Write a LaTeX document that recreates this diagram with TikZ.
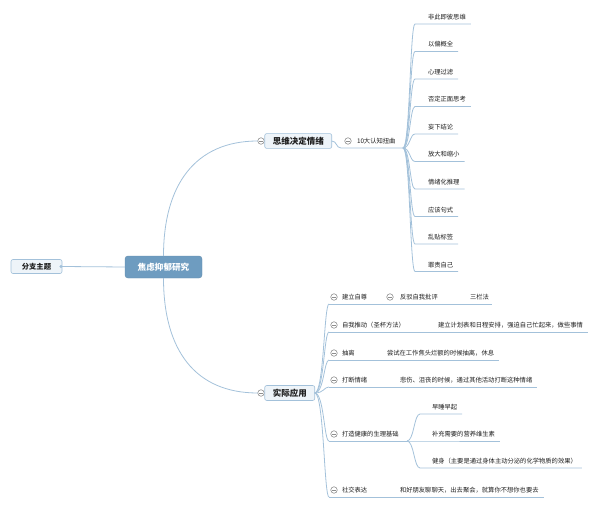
\documentclass[tikz,border=0pt]{standalone}
\usepackage{fontspec}
\setmainfont{Noto Sans CJK SC}
\usepackage{tikz}
\usetikzlibrary{calc,positioning,arrows.meta}

\definecolor{linkc}{HTML}{A3C1DA}
\definecolor{rootc}{HTML}{6E9CC0}
\definecolor{boxc}{HTML}{EEF4F9}
\definecolor{txtc}{HTML}{1E1E1E}
\definecolor{foldc}{HTML}{8E8E8E}

\tikzset{
  link/.style={draw=linkc, line width=0.8pt},
  rootbox/.style={rounded corners=3pt, fill=rootc, draw=rootc!90!black, text=white,
    font=\fontsize{8.6}{10}\selectfont\bfseries, minimum width=77pt, minimum height=22pt},
  mainbox/.style={rounded corners=2pt, fill=boxc, draw=linkc, line width=0.6pt, text=txtc,
    font=\fontsize{8.5}{10}\selectfont\bfseries, minimum height=14pt, inner xsep=8pt},
  sidebox/.style={mainbox, font=\fontsize{7.3}{9}\selectfont\bfseries, minimum width=51pt, inner xsep=4pt},
  leaf/.style={anchor=base west, inner sep=0pt, text=txtc, font=\fontsize{6.3}{7}\selectfont},
  fold/.style={circle, draw=foldc, fill=white, line width=0.6pt, minimum size=6.5pt, inner sep=0pt,
    path picture={\draw[foldc, line width=0.6pt] ([xshift=1.3pt]path picture bounding box.west)
      -- ([xshift=-1.3pt]path picture bounding box.east);}}
}

\begin{document}
\begin{tikzpicture}[x=1pt, y=-1pt, every node/.style={outer sep=0pt}]
    \useasboundingbox (0,0) rectangle (600,508);

    % centre and side topic
    \node[rootbox] (root) at (163.5,267) {焦虑抑郁研究};
    \node[sidebox] (side) at (36.5,266.5) {分支主题};
    \draw[link, shorten >=-2.5pt, -{Circle[length=3pt]}] (root.west) -- (side.east);

    % first branch
    \node[fold] (fthink) at (261,141) {};
    \node[mainbox, right=0.5pt of fthink] (think) {思维决定情绪};
    \draw[link] (root.north) .. controls (163.5,185) and (195,141) .. (fthink.west);

    \node[fold] (fdist) at (348,141) {};
    \node[leaf] (dist) at (357,143.4) {10大认知扭曲};
    \coordinate (kline) at (341,148);
    \coordinate (kfork) at (403,148);
    \draw[link] (think.east) .. controls (337,141) and (336,148) .. (kline) -- (kfork);

    \foreach \name [count=\i] in {非此即彼思维,以偏概全,心理过滤,否定正面思考,妄下结论,
        放大和缩小,情绪化推理,应该句式,乱贴标签,罪责自己}{
        \coordinate (k\i) at (415,{24+27.5*(\i-1)});
        \node[leaf] (kt\i) at ($(k\i)+(13,-4.5)$) {\name};
        \draw[link] (kfork) .. controls (410,148) and (410,{24+27.5*(\i-1)}) .. (k\i)
            -- ($(k\i -| kt\i.east)+(5,0)$);
    }

    % second branch
    \node[fold] (fapply) at (261,393) {};
    \node[mainbox, right=0.5pt of fapply] (apply) {实际应用};
    \draw[link] (root.south) .. controls (163.5,350) and (195,393) .. (fapply.west);

    \foreach \y [count=\i] in {304,332,360,387,441,497}{
        \coordinate (a\i) at (329,\y);
        \node[fold] (fa\i) at (334,\y-7) {};
        \draw[link] (apply.east) .. controls (324,393) and (324,\y) .. (a\i);
    }

    \node[leaf] (c1) at (342,299.5) {建立自尊};
    \node[fold] (fb1) at (390,297) {};
    \node[leaf] (b1) at (400,299.5) {反驳自我批评};
    \node[leaf] (d1) at (470,299.5) {三栏法};
    \draw[link] (a1) -- ($(a1 -| d1.east)+(3,0)$);

    \node[leaf] (c2) at (342,327.5) {自我推动（圣杯方法）};
    \node[leaf] (b2) at (438,327.5) {建立计划表和日程安排，强迫自己忙起来，做些事情};
    \draw[link] (a2) -- ($(a2 -| b2.east)+(5,0)$);

    \node[leaf] (c3) at (342,355.5) {抽离};
    \node[leaf] (b3) at (387,355.5) {尝试在工作焦头烂额的时候抽离，休息};
    \draw[link] (a3) -- ($(a3 -| b3.east)+(5,0)$);

    \node[leaf] (c4) at (342,382.5) {打断情绪};
    \node[leaf] (b4) at (400,382.5) {悲伤、沮丧的时候，通过其他活动打断这种情绪};
    \draw[link] (a4) -- ($(a4 -| b4.east)+(5,0)$);

    \node[leaf] (c5) at (342,436.5) {打造健康的生理基础};
    \coordinate (hfork) at (407,441);
    \draw[link] (a5) -- (hfork);
    \foreach \y/\name [count=\j] in {414/早睡早起,441/补充需要的营养维生素,
        468/健身（主要是通过身体主动分泌的化学物质的效果）}{
        \coordinate (h\j) at (420,\y);
        \node[leaf] (ht\j) at (432,\y-4.5) {\name};
        \draw[link] (hfork) .. controls (414,441) and (414,\y) .. (h\j)
            -- ($(h\j -| ht\j.east)+(5,0)$);
    }

    \node[leaf] (c6) at (342,492.5) {社交表达};
    \node[leaf] (b6) at (400,492.5) {和好朋友聊聊天，出去聚会，就算你不想你也要去};
    \draw[link] (a6) -- ($(a6 -| b6.east)+(5,0)$);
\end{tikzpicture}
\end{document}
